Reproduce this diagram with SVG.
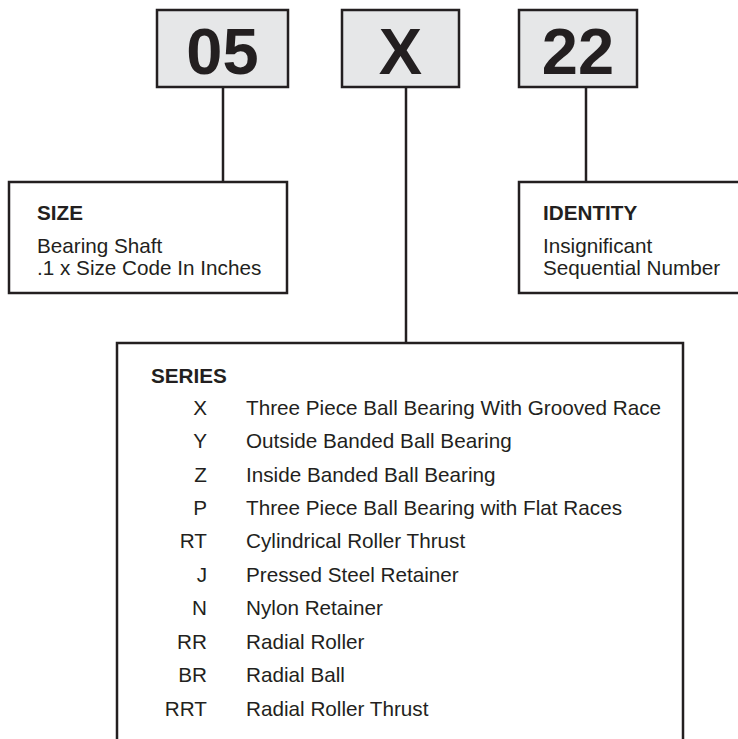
<svg xmlns="http://www.w3.org/2000/svg" width="738" height="739" viewBox="0 0 738 739">
<style>
.code{fill:#e6e7e8;stroke:#231f20;stroke-width:2.5}
.box{fill:#fff;stroke:#231f20;stroke-width:2.5}
.big{font-family:"Liberation Sans",Arial,sans-serif;font-weight:bold;font-size:65px;fill:#231f20;text-anchor:middle}
.t{font-family:"Liberation Sans",Arial,sans-serif;font-size:20.7px;fill:#231f20}
.b{font-weight:bold}
.e{text-anchor:end}
.conn{stroke:#231f20;stroke-width:2.5;fill:none}
</style>
<rect width="738" height="739" fill="#fff"/>
<g id="connectors">
<line class="conn" x1="223" y1="87" x2="223" y2="182"/>
<line class="conn" x1="406" y1="87" x2="406" y2="343"/>
<line class="conn" x1="586" y1="87" x2="586" y2="182"/>
</g>
<g id="code-05">
<rect class="code" x="157" y="10" width="131" height="77"/>
<text class="big" x="222.5" y="74">05</text>
</g>
<g id="code-X">
<rect class="code" x="342" y="10" width="117" height="77"/>
<text class="big" x="400.5" y="74">X</text>
</g>
<g id="code-22">
<rect class="code" x="519" y="10" width="118" height="77"/>
<text class="big" x="578" y="74">22</text>
</g>
<g id="size">
<rect class="box" x="9" y="182" width="278" height="111"/>
<text class="t b" x="37" y="220">SIZE</text>
<text class="t" x="37" y="253">Bearing Shaft</text>
<text class="t" x="37" y="275">.1 x Size Code In Inches</text>
</g>
<g id="identity">
<rect class="box" x="519" y="182" width="230" height="111"/>
<text class="t b" x="543" y="220">IDENTITY</text>
<text class="t" x="543" y="253">Insignificant</text>
<text class="t" x="543" y="275">Sequential Number</text>
</g>
<g id="series">
<rect class="box" x="117" y="343" width="566" height="420"/>
<text class="t b" x="151" y="383">SERIES</text>
<text class="t e" x="207" y="415">X</text><text class="t" x="246" y="415">Three Piece Ball Bearing With Grooved Race</text>
<text class="t e" x="207" y="448">Y</text><text class="t" x="246" y="448">Outside Banded Ball Bearing</text>
<text class="t e" x="207" y="482">Z</text><text class="t" x="246" y="482">Inside Banded Ball Bearing</text>
<text class="t e" x="207" y="515">P</text><text class="t" x="246" y="515">Three Piece Ball Bearing with Flat Races</text>
<text class="t e" x="207" y="548">RT</text><text class="t" x="246" y="548">Cylindrical Roller Thrust</text>
<text class="t e" x="207" y="582">J</text><text class="t" x="246" y="582">Pressed Steel Retainer</text>
<text class="t e" x="207" y="615">N</text><text class="t" x="246" y="615">Nylon Retainer</text>
<text class="t e" x="207" y="649">RR</text><text class="t" x="246" y="649">Radial Roller</text>
<text class="t e" x="207" y="682">BR</text><text class="t" x="246" y="682">Radial Ball</text>
<text class="t e" x="207" y="716">RRT</text><text class="t" x="246" y="716">Radial Roller Thrust</text>
</g>
</svg>
